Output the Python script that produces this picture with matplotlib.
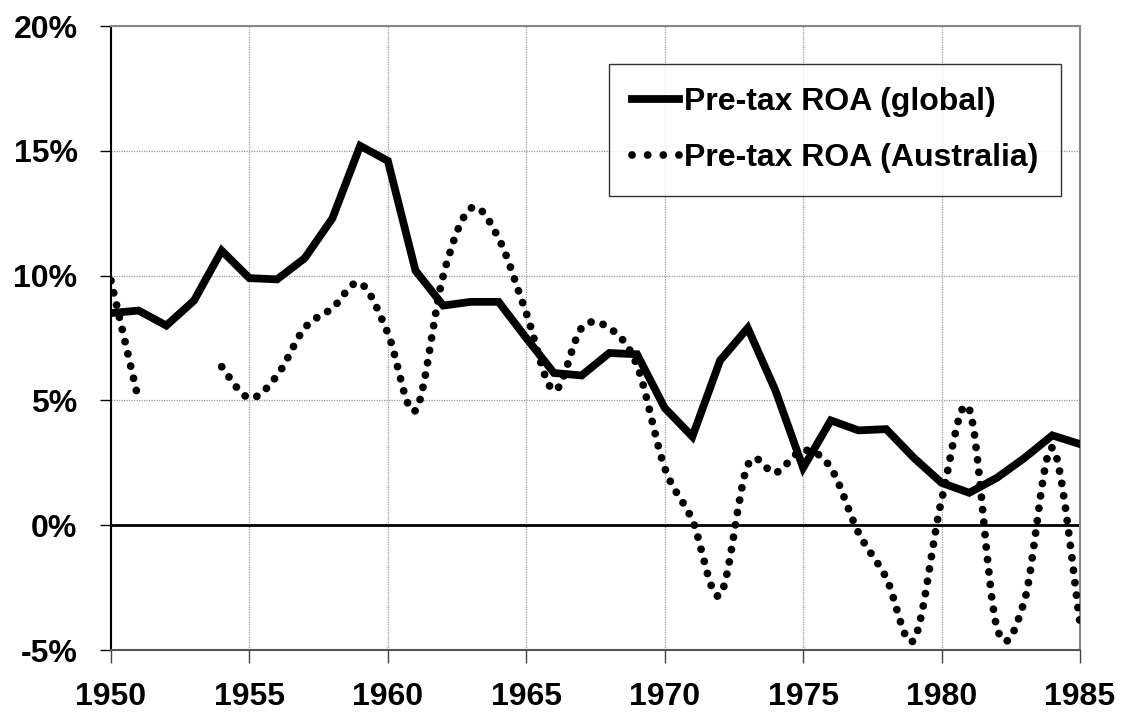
import numpy as np
import matplotlib
matplotlib.use("Agg")
import matplotlib.pyplot as plt
from matplotlib.path import Path
from matplotlib.patches import PathPatch
from matplotlib.lines import Line2D
from matplotlib.ticker import FuncFormatter

plt.rcParams['font.family'] = ['Liberation Sans', 'DejaVu Sans']
plt.rcParams['font.weight'] = 'bold'

# data (pre-tax return on assets, %)
years = np.arange(1950, 1986)
roa_global = [8.5, 8.6, 8.0, 9.0, 11.0, 9.9, 9.85, 10.7, 12.3, 15.2,
              14.6, 10.2, 8.8, 8.95, 8.95, 7.5, 6.1, 6.0, 6.9, 6.85,
              4.7, 3.55, 6.6, 7.9, 5.4, 2.3, 4.2, 3.8, 3.85, 2.7,
              1.7, 1.3, 1.9, 2.7, 3.6, 3.25]
roa_australia = [9.8, 5.0, np.nan, np.nan, 6.35, 5.1, 6.0, 7.9, 8.7, 9.7,
                 7.7, 4.6, 10.0, 12.7, 11.5, 8.5, 5.4, 7.9, 7.9, 6.4,
                 2.3, 0.2, -2.8, 2.4, 2.1, 3.0, 2.3, -0.3, -2.1, -4.6,
                 1.0, 4.65, -4.1, -3.0, 3.1, -3.9]
labels = ["Pre-tax ROA (global)", "Pre-tax ROA (Australia)"]


def smooth_path(xs, ys):
    # Excel-style smoothed line: Catmull-Rom segments as cubic Beziers,
    # split wherever the series has a gap
    verts, codes = [], []
    ys = np.asarray(ys, dtype=float)
    idx = np.where(~np.isnan(ys))[0]
    runs = np.split(idx, np.where(np.diff(idx) > 1)[0] + 1)
    for run in runs:
        p = np.column_stack([np.asarray(xs)[run], ys[run]]).astype(float)
        n = len(p)
        verts.append(p[0]); codes.append(Path.MOVETO)
        for i in range(n - 1):
            p0 = p[i - 1] if i > 0 else p[i]
            p3 = p[i + 2] if i + 2 < n else p[i + 1]
            c1 = p[i] + (p[i + 1] - p0) / 6.0
            c2 = p[i + 1] - (p3 - p[i]) / 6.0
            verts += [c1, c2, p[i + 1]]
            codes += [Path.CURVE4] * 3
    return Path(verts, codes)


fig = plt.figure(figsize=(11.23, 7.17), dpi=100)
ax = fig.add_axes([0.0988, 0.0934, 0.8629, 0.8703])

dot_style = (0, (0.01, 1.6))
lw = 5.6
fs = 23

ax.plot(years, roa_global, color="black", lw=lw, solid_joinstyle="miter",
        zorder=4)
ax.add_patch(PathPatch(smooth_path(years, roa_australia), fill=False,
                       edgecolor="black", lw=lw, linestyle=dot_style,
                       capstyle="round", zorder=3))

ax.axhline(0, color="black", lw=2, zorder=2)

ax.set_xlim(1950, 1985)
ax.set_ylim(-5, 20)
ax.set_xticks(np.arange(1950, 1986, 5))
ax.set_yticks(np.arange(-5, 21, 5))
ax.yaxis.set_major_formatter(FuncFormatter(lambda v, p: "{:.0f}%".format(v)))
ax.grid(True, color="#999999", linestyle=(0, (1, 1)), lw=0.9, zorder=0)
ax.set_axisbelow(True)

ax.tick_params(axis="y", length=8, width=1, pad=16, labelsize=fs)
ax.tick_params(axis="x", length=9, width=1, pad=14, labelsize=fs,
               color="#444444")
for lab in ax.get_xticklabels() + ax.get_yticklabels():
    lab.set_fontweight("bold")

ax.spines["left"].set_color("black")
ax.spines["bottom"].set_color("#555555")
ax.spines["top"].set_color("#888888")
ax.spines["right"].set_color("#888888")
for s in ax.spines.values():
    s.set_linewidth(1.5)

handles = [Line2D([], [], color="black", lw=lw),
           Line2D([], [], color="black", lw=lw, linestyle=(0, (0.01, 2.0)),
                  dash_capstyle="round")]
leg = ax.legend(handles, labels, loc="center",
                bbox_to_anchor=(0.52, 0.724, 0.455, 0.218),
                fontsize=fs, frameon=True, fancybox=False,
                handlelength=1.47, handletextpad=0.15, labelspacing=0.8,
                borderpad=0.72)
leg.get_frame().set_edgecolor("black")
leg.get_frame().set_linewidth(1.0)
for t in leg.get_texts():
    t.set_fontweight("bold")

fig.savefig("out.png", dpi=100)
